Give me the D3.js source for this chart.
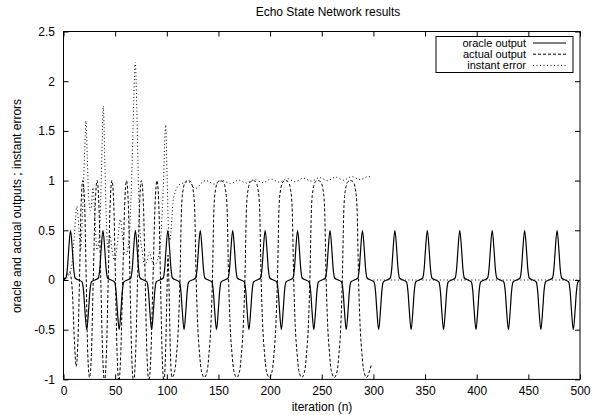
<!DOCTYPE html>
<html lang="en">
<head>
<meta charset="UTF-8">
<title>Echo State Network results</title>
<script src="https://cdn.jsdelivr.net/npm/d3@7"></script>
<style>
  body { margin: 0; background: #fff; }
  svg text { font-family: "Liberation Sans", Arial, Helvetica, sans-serif; font-size: 12px; fill: #000; }
  .legend text { font-size: 11px; }
</style>
</head>
<body>
<svg id="chart" width="603" height="415"></svg>
<script>
// ---- data: [iteration n, value] ----
const xTicks = [0, 50, 100, 150, 200, 250, 300, 350, 400, 450, 500];
const yTicks = [-1, -0.5, 0, 0.5, 1, 1.5, 2, 2.5];
const seriesNames = ["oracle output", "actual output", "instant error"];

// oracle output (solid): narrow +0.5 / -0.5 pulses
const oracle = [
  [0,0],[2.3,.02],[3.8,.12],[5,.3],[6.8,.5],[8.6,.3],[9.8,.12],[11.3,.02],[14.7,0],
  [18,-.02],[19.5,-.12],[20.7,-.3],[22.5,-.5],[24.3,-.3],[25.5,-.12],[27,-.02],[30.4,0],
  [33.7,.02],[35.2,.12],[36.4,.3],[38.2,.5],[40,.3],[41.2,.12],[42.7,.02],[46.1,0],
  [49.4,-.02],[50.9,-.12],[52.1,-.3],[53.9,-.5],[55.7,-.3],[56.9,-.12],[58.4,-.02],[61.8,0],
  [65.1,.02],[66.6,.12],[67.8,.3],[69.6,.5],[71.4,.3],[72.6,.12],[74.1,.02],[77.5,0],
  [80.8,-.02],[82.3,-.12],[83.5,-.3],[85.3,-.5],[87.1,-.3],[88.3,-.12],[89.8,-.02],[93.2,0],
  [96.5,.02],[98,.12],[99.2,.3],[101,.5],[102.8,.3],[104,.12],[105.5,.02],[108.9,0],
  [112.2,-.02],[113.7,-.12],[114.9,-.3],[116.7,-.5],[118.5,-.3],[119.7,-.12],[121.2,-.02],[124.6,0],
  [127.9,.02],[129.4,.12],[130.6,.3],[132.4,.5],[134.2,.3],[135.4,.12],[136.9,.02],[140.3,0],
  [143.6,-.02],[145.1,-.12],[146.3,-.3],[148.1,-.5],[149.9,-.3],[151.1,-.12],[152.6,-.02],[156,0],
  [159.3,.02],[160.8,.12],[162,.3],[163.8,.5],[165.6,.3],[166.8,.12],[168.3,.02],[171.7,0],
  [175,-.02],[176.5,-.12],[177.7,-.3],[179.5,-.5],[181.3,-.3],[182.5,-.12],[184,-.02],[187.4,0],
  [190.7,.02],[192.2,.12],[193.4,.3],[195.2,.5],[197,.3],[198.2,.12],[199.7,.02],[203.1,0],
  [206.4,-.02],[207.9,-.12],[209.1,-.3],[210.9,-.5],[212.7,-.3],[213.9,-.12],[215.4,-.02],[218.8,0],
  [222.1,.02],[223.6,.12],[224.8,.3],[226.6,.5],[228.4,.3],[229.6,.12],[231.1,.02],[234.5,0],
  [237.8,-.02],[239.3,-.12],[240.5,-.3],[242.3,-.5],[244.1,-.3],[245.3,-.12],[246.8,-.02],[250.2,0],
  [253.5,.02],[255,.12],[256.2,.3],[258,.5],[259.8,.3],[261,.12],[262.5,.02],[265.9,0],
  [269.2,-.02],[270.7,-.12],[271.9,-.3],[273.7,-.5],[275.5,-.3],[276.7,-.12],[278.2,-.02],[281.6,0],
  [284.9,.02],[286.4,.12],[287.6,.3],[289.4,.5],[291.2,.3],[292.4,.12],[293.9,.02],[297.3,0],
  [300.6,-.02],[302.1,-.12],[303.3,-.3],[305.1,-.5],[306.9,-.3],[308.1,-.12],[309.6,-.02],[313,0],
  [316.3,.02],[317.8,.12],[319,.3],[320.8,.5],[322.6,.3],[323.8,.12],[325.3,.02],[328.7,0],
  [332,-.02],[333.5,-.12],[334.7,-.3],[336.5,-.5],[338.3,-.3],[339.5,-.12],[341,-.02],[344.4,0],
  [347.7,.02],[349.2,.12],[350.4,.3],[352.2,.5],[354,.3],[355.2,.12],[356.7,.02],[360.1,0],
  [363.4,-.02],[364.9,-.12],[366.1,-.3],[367.9,-.5],[369.7,-.3],[370.9,-.12],[372.4,-.02],[375.8,0],
  [379.1,.02],[380.6,.12],[381.8,.3],[383.6,.5],[385.4,.3],[386.6,.12],[388.1,.02],[391.5,0],
  [394.8,-.02],[396.3,-.12],[397.5,-.3],[399.3,-.5],[401.1,-.3],[402.3,-.12],[403.8,-.02],[407.2,0],
  [410.5,.02],[412,.12],[413.2,.3],[415,.5],[416.8,.3],[418,.12],[419.5,.02],[422.9,0],
  [426.2,-.02],[427.7,-.12],[428.9,-.3],[430.7,-.5],[432.5,-.3],[433.7,-.12],[435.2,-.02],[438.6,0],
  [441.9,.02],[443.4,.12],[444.6,.3],[446.4,.5],[448.2,.3],[449.4,.12],[450.9,.02],[454.3,0],
  [457.6,-.02],[459.1,-.12],[460.3,-.3],[462.1,-.5],[463.9,-.3],[465.1,-.12],[466.6,-.02],[470,0],
  [473.3,.02],[474.8,.12],[476,.3],[477.8,.5],[479.6,.3],[480.8,.12],[482.3,.02],[485.7,0],
  [489,-.02],[490.5,-.12],[491.7,-.3],[493.5,-.5],[495.3,-.3],[496.5,-.12],[498,-.02],[500,0]
];

// actual output (dashed): fast swings, then slow +-1 swings, stops near n=298
const actual = [
  [0,0],[3,.05],[6,.08],[8.5,-.1],[10.5,-.6],[12.3,-.87],[14,-.6],[15.5,0],[17,.75],[18.7,1],
  [20.5,.75],[22,0],[23.5,-.75],[25.2,-.98],[27,-.75],[28.8,0],[30.7,.75],[32.5,1],
  [34.3,.75],[36.1,0],[37.9,-.75],[39.7,-1.02],[41.5,-.75],[43.3,0],[45.1,.75],[46.9,1],
  [48.7,.75],[50.3,0],[51.9,-.75],[53.6,-1.02],[55.4,-.75],[57.3,0],[59.2,.75],[61,1],
  [62.8,.75],[64.4,0],[66,-.75],[67.8,-1.02],[69.8,-.75],[71.7,0],[73.6,.75],[75.5,1],
  [77.4,.75],[79.1,0],[80.8,-.75],[82.7,-1.02],[84.6,-.75],[86.6,0],[88.6,.75],[90.5,1],
  [92.3,.75],[93.9,0],[95.5,-.75],[97.2,-1.02],[98.9,-.7],[100.2,-.1],[101.2,.25],[102.2,-.1],
  [103.4,-.7],[104.9,-.98],
  [107.8,-.91],[109.4,-.75],[111.3,-.45],[112.75,0],[114.3,.74],[115.8,.91],[118.2,.99],[120.6,1],
  [123,.99],[125.4,.91],[126.9,.74],[128.45,0],[129.9,-.45],[131.8,-.75],[133.4,-.91],[136.3,-.98],
  [139.2,-.91],[140.8,-.75],[142.7,-.45],[144.15,0],
  [145.7,.74],[147.2,.91],[149.6,.99],[152,1],[154.4,.99],[156.8,.91],[158.3,.74],[159.85,0],
  [161.3,-.45],[163.2,-.75],[164.8,-.91],[167.7,-.98],[170.6,-.91],[172.2,-.75],[174.1,-.45],[175.6,0],
  [177.2,.74],[178.7,.91],[181.1,.99],[183.5,1],[185.9,.99],[188.3,.91],[189.8,.74],[191.35,0],
  [192.8,-.45],[194.7,-.75],[196.3,-.91],[199.2,-.98],[202.1,-.91],[203.7,-.75],[205.6,-.45],[207.1,0],
  [208.7,.74],[210.2,.91],[212.6,.99],[215,1],[217.4,.99],[219.8,.91],[221.3,.74],[222.85,0],
  [224.3,-.45],[226.2,-.75],[227.8,-.91],[230.7,-.98],[233.6,-.91],[235.2,-.75],[237.1,-.45],[238.5,0],
  [240.1,.74],[241.6,.91],[244,.99],[246.4,1],[248.8,.99],[251.2,.91],[252.7,.74],[254.25,0],
  [255.7,-.45],[257.6,-.75],[259.2,-.91],[262.1,-.98],[265,-.91],[266.6,-.75],[268.5,-.45],[269.9,0],
  [271.5,.74],[273,.91],[275.4,.99],[277.8,1],[280.2,.99],[282.6,.91],[284.1,.74],[285.65,0],
  [287.1,-.45],[289,-.75],[290.6,-.91],[293.5,-.98],[296.4,-.91],[297.8,-.86]
];

// instant error (dotted) during training
const errorTrain = [
  [0,0],[2,.01],[5,.05],[8,.15],[10.5,.45],[13,.74],[15,.5],[16.5,.3],[18.5,.7],[20.5,1.3],
  [21.8,1.6],[23,1.25],[24.5,.8],[26.5,.7],[28.5,.93],[30.5,.6],[32.5,.3],[35,.5],[37,1.2],
  [38.5,1.75],[40,1.2],[41.5,.6],[43,.3],[45,.45],[47,.3],[49.5,.2],[52,.35],[55,.61],[57.5,.4],
  [60,.25],[62,.3],[64,.5],[66.5,1.2],[68,1.8],[69.5,2.19],[71,1.7],[72.5,1],[74,.5],[76,.3],
  [78.5,.15],[81,.2],[83,.28],[85.5,.2],[88,.15],[91,.2],[94,.4],[96.5,.9],[98.9,1.56],
  [100.2,1.1],[101.5,.55],[103,.4],[104.5,.55],[106,.78],[108,.88],[110.5,.94],[114,.97],
  [118,.98],[121,.99],[124,.96],[127,.92],[130,.93],[133,.97],[138,1],[146,.965],[154,1],
  [161.5,.97],[169.5,1.005],[177,.975],[185,1.01],[193,.98],[201,1.015],[208.5,.985],
  [216.5,1.02],[224,.99],[232,1.025],[240,.995],[248,1.03],[255.5,1],[263.5,1.035],[271,1.005],
  [279,1.04],[287,1.01],[295,1.04],[298,1.035]
];
// instant error after training
const errorTest = [[300,0],[500,0]];

// ---- layout ----
const svg = d3.select("#chart");
const plotLeft = 63.5, plotRight = 580, plotTop = 31.5, plotBottom = 379.4;

const x = d3.scaleLinear().domain([0, 500]).range([plotLeft, plotRight]);
const y = d3.scaleLinear().domain([-1, 2.5]).range([plotBottom, plotTop]);

svg.append("defs").append("clipPath").attr("id", "plotClip")
  .append("rect")
  .attr("x", plotLeft).attr("y", plotTop)
  .attr("width", plotRight - plotLeft).attr("height", plotBottom - plotTop);

// axes with inward ticks, mirrored on top and right
function styleAxis(g) {
  g.attr("font-family", null).attr("font-size", null);
  g.select(".domain").remove();
  g.selectAll("line").attr("stroke", "#000");
}

svg.append("g")
  .attr("transform", `translate(0,${plotBottom})`)
  .call(d3.axisBottom(x).tickValues(xTicks).tickSize(-5).tickPadding(7).tickFormat(d3.format("d")))
  .call(styleAxis);

svg.append("g")
  .attr("transform", `translate(${plotLeft},0)`)
  .call(d3.axisLeft(y).tickValues(yTicks).tickSize(-5).tickPadding(8.5).tickFormat(d => String(d)))
  .call(styleAxis);

svg.append("g")
  .attr("transform", `translate(0,${plotTop})`)
  .call(d3.axisTop(x).tickValues(xTicks).tickSize(-5).tickFormat(""))
  .call(styleAxis);

svg.append("g")
  .attr("transform", `translate(${plotRight},0)`)
  .call(d3.axisRight(y).tickValues(yTicks).tickSize(-5).tickFormat(""))
  .call(styleAxis);

// lines
const line = d3.line()
  .x(d => x(d[0]))
  .y(d => y(d[1]))
  .curve(d3.curveMonotoneX);

const plot = svg.append("g").attr("clip-path", "url(#plotClip)");

const styles = [
  { dash: null, width: 1.2 },
  { dash: "3,2", width: 1 },
  { dash: "1,2.5", width: 1 }
];

function drawSeries(data, st) {
  plot.append("path")
    .datum(data)
    .attr("d", line)
    .attr("fill", "none")
    .attr("stroke", "#000")
    .attr("stroke-width", st.width)
    .attr("stroke-linejoin", "round")
    .attr("stroke-dasharray", st.dash);
}

drawSeries(oracle, styles[0]);
drawSeries(actual, styles[1]);
drawSeries(errorTrain, styles[2]);
drawSeries(errorTest, styles[2]);

// frame
svg.append("rect")
  .attr("x", plotLeft).attr("y", plotTop)
  .attr("width", plotRight - plotLeft).attr("height", plotBottom - plotTop)
  .attr("fill", "none").attr("stroke", "#000").attr("stroke-width", 1);

// legend
const legend = svg.append("g").attr("class", "legend");
legend.append("rect")
  .attr("x", 436).attr("y", 36.5).attr("width", 137).attr("height", 36)
  .attr("fill", "#fff").attr("stroke", "#000").attr("stroke-width", 1);

seriesNames.forEach((name, i) => {
  const ly = 43 + i * 11.2;
  legend.append("text")
    .attr("x", 526).attr("y", ly).attr("dy", "0.35em")
    .attr("text-anchor", "end")
    .text(name);
  legend.append("line")
    .attr("x1", 533).attr("x2", 566).attr("y1", ly).attr("y2", ly)
    .attr("stroke", "#000")
    .attr("stroke-width", styles[i].width)
    .attr("stroke-dasharray", styles[i].dash);
});

// titles
svg.append("text")
  .attr("x", 328).attr("y", 16)
  .attr("text-anchor", "middle")
  .text("Echo State Network results");

svg.append("text")
  .attr("x", 322).attr("y", 411)
  .attr("text-anchor", "middle")
  .text("iteration (n)");

svg.append("text")
  .attr("transform", "translate(21,206) rotate(-90)")
  .attr("text-anchor", "middle")
  .text("oracle and actual outputs ; instant errors");
</script>
</body>
</html>
